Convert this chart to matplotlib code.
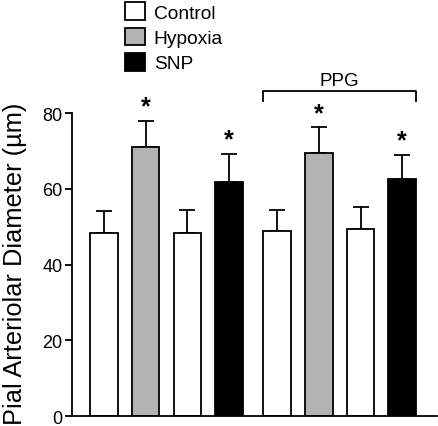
import matplotlib.pyplot as plt
from matplotlib.patches import Patch

plt.rcParams['font.family'] = ['Liberation Sans', 'DejaVu Sans']

# bar data
groups = ['Control', 'Hypoxia', 'Control', 'SNP', 'Control', 'Hypoxia', 'Control', 'SNP']
values = [48.4, 70.9, 48.4, 61.9, 48.8, 69.5, 49.4, 62.5]
errors = [5.8, 7.0, 6.0, 7.3, 5.7, 6.7, 5.7, 6.5]
signif = [False, True, False, True, False, True, False, True]
colors = {'Control': 'white', 'Hypoxia': '#b3b3b3', 'SNP': 'black'}
positions = [0, 1, 2, 3, 4.15, 5.15, 6.15, 7.15]
yticks = [0, 20, 40, 60, 80]

fig = plt.figure(figsize=(4.38, 4.27), dpi=100)
ax = fig.add_axes([0.1644, 0.0234, 0.834, 0.7096])

ax.bar(positions, values, width=0.66, color=[colors[g] for g in groups],
       edgecolor='black', linewidth=1.3, zorder=2)
ax.errorbar(positions, values, yerr=[[0] * len(values), errors], fmt='none',
            ecolor='black', elinewidth=1.3, capsize=5.8, capthick=1.3, zorder=1)

for x, v, e, s in zip(positions, values, errors, signif):
    if s:
        ax.text(x, v + e + 0.6, '*', ha='center', va='bottom', fontsize=18,
                fontweight='bold')

# PPG bracket
x0 = positions[4] - 0.33
x1 = positions[7] + 0.33
ax.plot([x0, x0, x1, x1], [83.2, 85.7, 85.7, 83.2], color='black', lw=1.3,
        clip_on=False)
ax.text((x0 + x1) / 2, 86.4, 'PPG', ha='center', va='bottom', fontsize=13.5)

ax.set_xlim(-0.767, 7.99)
ax.set_ylim(0, 80)
ax.set_yticks(yticks)
ax.tick_params(axis='y', labelsize=13, width=1.3, length=5, direction='out',
               pad=2)
ax.set_xticks([])
ax.spines['top'].set_visible(False)
ax.spines['right'].set_visible(False)
ax.spines['left'].set_linewidth(1.3)
ax.spines['bottom'].set_linewidth(1.3)
ax.set_ylabel('Pial Arteriolar Diameter (µm)', fontsize=18.3)
ax.yaxis.set_label_coords(-0.122, 0.505)

handles = [Patch(facecolor=colors[k], edgecolor='black', linewidth=1.3)
           for k in ['Control', 'Hypoxia', 'SNP']]
fig.legend(handles, ['Control', 'Hypoxia', 'SNP'], loc='upper left',
           bbox_to_anchor=(0.268, 1.01), frameon=False, fontsize=13.8,
           handlelength=1.05, handleheight=1.05, handletextpad=0.45,
           labelspacing=0.3, borderaxespad=0)

fig.savefig('out.png', dpi=100)
